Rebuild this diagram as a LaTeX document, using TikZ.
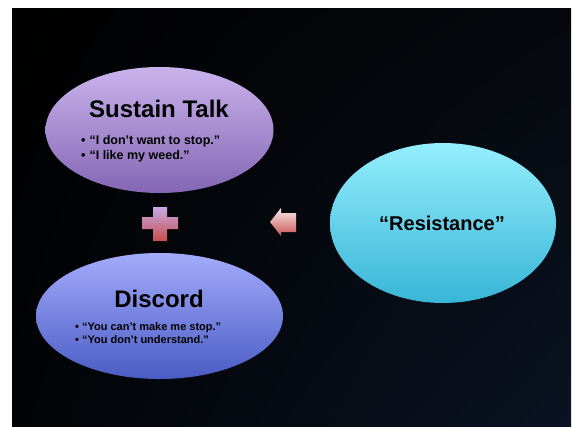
\documentclass[tikz,border=0pt]{standalone}
\usepackage{fontspec}
\setmainfont{Liberation Sans}
\usetikzlibrary{shapes.geometric,shadings}

\definecolor{stTop}{HTML}{C9B3EC}
\definecolor{stBot}{HTML}{8466B4}
\definecolor{dcTop}{HTML}{A3ABFB}
\definecolor{dcBot}{HTML}{4A5CC4}
\definecolor{rsTop}{HTML}{94EEFD}
\definecolor{rsBot}{HTML}{38B5D6}
\definecolor{plTop}{HTML}{C8AAE6}
\definecolor{plBot}{HTML}{C64C4C}
\definecolor{arTop}{HTML}{FBEAEA}
\definecolor{arBot}{HTML}{C85656}
\definecolor{bgBR}{HTML}{0A1322}
\definecolor{bgTR}{HTML}{06080D}
\definecolor{bgBL}{HTML}{020306}

\tikzset{
  bubble/.style={ellipse, draw=none, inner sep=0pt},
  title/.style={font=\bfseries\fontsize{24}{28}\selectfont, text=black, inner sep=0pt},
  bul/.style={font=\bfseries\fontsize{#1}{#1}\selectfont, text=black, inner sep=0pt, anchor=base west},
}

\begin{document}
\begin{tikzpicture}[x=1pt,y=-1pt]
  % page and slide background
  \fill[white] (0,0) rectangle (572,426);
  \useasboundingbox (0,0) rectangle (572,426);
  \shade[upper left=black, upper right=bgTR, lower left=bgBL, lower right=bgBR]
    (12,8) rectangle (571,426);

  % the three bubbles
  \node[bubble, minimum width=228pt, minimum height=126pt,
        top color=stTop, bottom color=stBot] (sustain) at (159.5,130) {};
  \node[bubble, minimum width=247pt, minimum height=126pt,
        top color=dcTop, bottom color=dcBot] (discord) at (159.5,316) {};
  \node[bubble, minimum width=226pt, minimum height=160pt,
        top color=rsTop, bottom color=rsBot] (resist) at (443,223) {};

  % Sustain Talk
  \node[title, anchor=base] (sttitle) at (159,117) {Sustain Talk};
  \node[bul=12.5] (st1) at (81,144) {•\hspace{4pt}“I don’t want to stop.”};
  \node[bul=12.5] (st2) at (81,159) {•\hspace{4pt}“I like my weed.”};

  % Discord
  \node[title, anchor=base] (dctitle) at (159,307) {Discord};
  \node[bul=11] (dc1) at (75,330) {•\hspace{3pt}“You can’t make me stop.”};
  \node[bul=11] (dc2) at (75,343) {•\hspace{3pt}“You don’t understand.”};

  % Resistance
  \node[title, font=\bfseries\fontsize{20}{24}\selectfont, anchor=base] (rstitle)
    at (442,230) {“Resistance”};

  % plus sign between the left bubbles
  \shade[top color=plTop, bottom color=plBot]
    (153,207) -- (167,207) -- (167,217) -- (178,217) -- (178,229) -- (167,229)
    -- (167,241) -- (153,241) -- (153,229) -- (142,229) -- (142,217) -- (153,217) -- cycle;

  % block arrow pointing left
  \shade[top color=arTop, bottom color=arBot]
    (270,222) -- (281,208) -- (281,213) -- (296,213) -- (296,232) -- (281,232)
    -- (281,236) -- cycle;
\end{tikzpicture}
\end{document}
